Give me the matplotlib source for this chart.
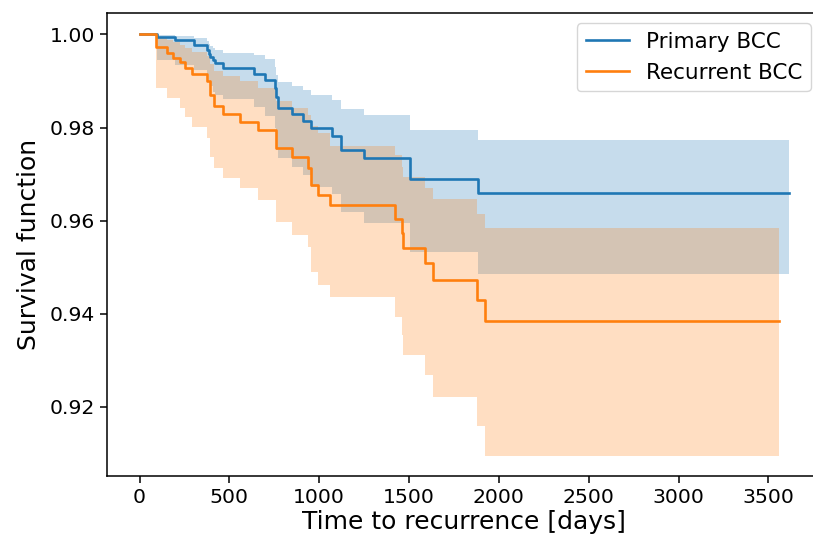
import matplotlib
matplotlib.use('Agg')
import matplotlib.pyplot as plt

# Kaplan-Meier estimates (days, survival, 95% CI)
blue_t = [0, 95, 200, 305, 378, 386, 393, 411, 421, 467, 636, 700, 752, 762,
          773, 848, 908, 955, 1072, 1122, 1252, 1508, 1882, 3615]
blue_s = [1.0, 0.9995, 0.9988, 0.9977, 0.9966, 0.9959, 0.9952, 0.9945, 0.9938,
          0.9927, 0.9914, 0.9902, 0.9885, 0.9866, 0.9842, 0.9828, 0.9813, 0.9798,
          0.9781, 0.9751, 0.9734, 0.9689, 0.9659, 0.9659]
blue_hi = [1.0, 0.9999, 0.9997, 0.9993, 0.9985, 0.9979, 0.9975, 0.9970, 0.9966,
           0.9961, 0.9955, 0.9948, 0.9930, 0.9912, 0.9898, 0.9889, 0.9880, 0.9870,
           0.9860, 0.9840, 0.9827, 0.9794, 0.9774, 0.9774]
blue_lo = [1.0, 0.9945, 0.9934, 0.9923, 0.9916, 0.9902, 0.9890, 0.9877, 0.9870,
           0.9862, 0.9845, 0.9825, 0.9800, 0.9751, 0.9734, 0.9716, 0.9698, 0.9673,
           0.9658, 0.9619, 0.9594, 0.9533, 0.9486, 0.9486]

orange_t = [0, 92, 151, 188, 226, 254, 291, 374, 393, 415, 467, 560, 662, 760,
            847, 940, 953, 996, 1061, 1423, 1460, 1468, 1589, 1636, 1880, 1923, 3560]
orange_s = [1.0, 0.9972, 0.9960, 0.9950, 0.9940, 0.9928, 0.9914, 0.9900, 0.9870,
            0.9846, 0.9830, 0.9812, 0.9794, 0.9755, 0.9737, 0.9712, 0.9676, 0.9655,
            0.9633, 0.9603, 0.9573, 0.9541, 0.9509, 0.9472, 0.9430, 0.9385, 0.9385]
orange_hi = [1.0, 0.9993, 0.9988, 0.9983, 0.9977, 0.9970, 0.9962, 0.9954, 0.9937,
             0.9922, 0.9911, 0.9900, 0.9886, 0.9856, 0.9843, 0.9826, 0.9803, 0.9789,
             0.9760, 0.9741, 0.9716, 0.9694, 0.9669, 0.9646, 0.9615, 0.9583, 0.9583]
orange_lo = [1.0, 0.9884, 0.9863, 0.9863, 0.9841, 0.9823, 0.9802, 0.9777, 0.9737,
             0.9712, 0.9691, 0.9669, 0.9644, 0.9596, 0.9569, 0.9544, 0.9490, 0.9461,
             0.9436, 0.9393, 0.9354, 0.9311, 0.9267, 0.9220, 0.9158, 0.9094, 0.9094]

labels = ['Primary BCC', 'Recurrent BCC']
x_ticks = [0, 500, 1000, 1500, 2000, 2500, 3000, 3500]
y_ticks = [0.92, 0.94, 0.96, 0.98, 1.00]

fig = plt.figure(figsize=(8.13, 5.48), dpi=100)
# right edge runs slightly past the canvas, like the cropped original
ax = fig.add_axes([0.1316, 0.1314, 0.8789, 0.8456])

series = [
    (blue_t, blue_s, blue_lo, blue_hi, 'tab:blue'),
    (orange_t, orange_s, orange_lo, orange_hi, 'tab:orange'),
]
for (t, s, lo, hi, c), lab in zip(series, labels):
    ax.step(t, s, where='post', color=c, lw=1.9, label=lab)
    ax.fill_between(t, lo, hi, step='post', color=c, alpha=0.25, lw=0)

ax.set_xlim(-181, 3796)
ax.set_ylim(0.9051, 1.0047)
ax.set_xticks(x_ticks)
ax.set_yticks(y_ticks)
ax.set_yticklabels(['%.2f' % v for v in y_ticks])
ax.tick_params(labelsize=14.7, length=5, width=1.1)
for sp in ax.spines.values():
    sp.set_linewidth(1.1)

ax.set_xlabel('Time to recurrence [days]', fontsize=18, labelpad=2)
ax.set_ylabel('Survival function', fontsize=18, labelpad=6)
ax.legend(loc='upper right', fontsize=15.5, handlelength=2.0)

fig.savefig('out.png', dpi=100)
